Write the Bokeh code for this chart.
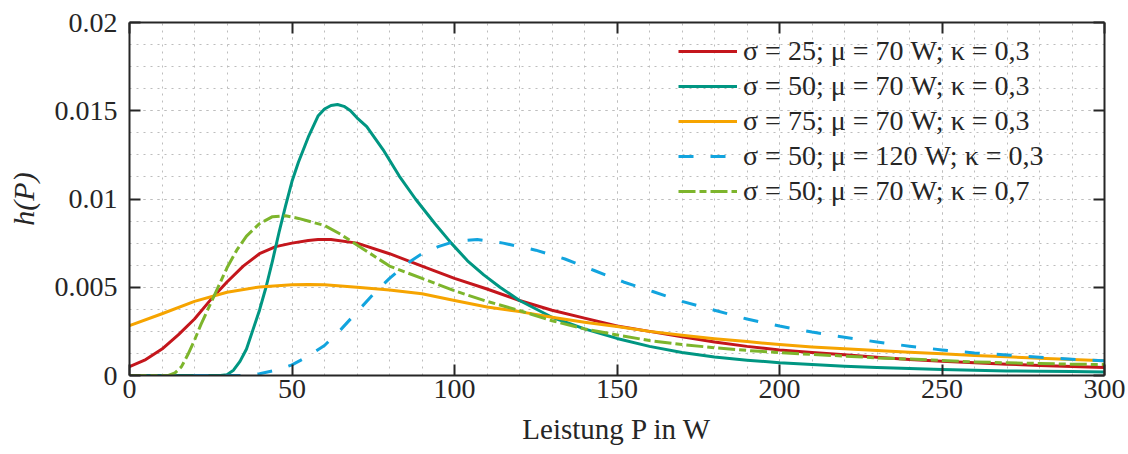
from bokeh.plotting import figure
from bokeh.models import (Range1d, FixedTicker, LinearAxis, CustomJSTickFormatter,
                          Legend, LegendItem)
from bokeh.embed import file_html
from bokeh.resources import INLINE

# ---------------- data ----------------
P_red = [0, 5, 10, 15, 20, 25, 30, 35, 40, 45, 50, 55, 58, 62, 70, 80, 90, 100, 110, 120,
         130, 140, 150, 160, 170, 180, 190, 200, 210, 220, 230, 240, 250, 260, 270, 280, 290, 300]
h_red = [0.0005, 0.0009, 0.0015, 0.0023, 0.0032, 0.0043, 0.0053, 0.0062, 0.0069, 0.0073,
         0.0075, 0.00765, 0.0077, 0.0077, 0.0075, 0.0069, 0.0062, 0.0055, 0.0049, 0.00425,
         0.0037, 0.00325, 0.0028, 0.0025, 0.0022, 0.0019, 0.00165, 0.00145, 0.0013, 0.00117,
         0.00104, 0.00091, 0.00081, 0.00072, 0.00064, 0.00057, 0.00051, 0.00046]

P_teal = [0, 28, 30, 32, 34, 36, 38, 40, 42, 44, 46, 48, 50, 52, 55, 58, 60, 62, 64, 66,
          68, 70, 73, 78, 83, 88, 94, 99, 104, 109, 114, 120, 130, 140, 150, 160, 170, 180,
          190, 200, 210, 220, 230, 240, 250, 260, 270, 280, 290, 300]
h_teal = [0, 0, 0.00005, 0.0003, 0.0008, 0.0015, 0.0026, 0.0037, 0.0050, 0.0065,
          0.0081, 0.0096, 0.0110, 0.0121, 0.0135, 0.0147, 0.0151, 0.0153, 0.01535, 0.01525,
          0.0150, 0.0146, 0.0141, 0.0128, 0.0113, 0.0100, 0.0086, 0.0075, 0.0065, 0.0057,
          0.0050, 0.00425, 0.0033, 0.00264, 0.0021, 0.00165, 0.0013, 0.00105,
          0.00087, 0.00072, 0.00062, 0.00053, 0.00045, 0.0004, 0.00034, 0.0003, 0.00026,
          0.00024, 0.00022, 0.0002]

P_orange = [0, 10, 20, 30, 40, 50, 55, 60, 70, 80, 90, 100, 110, 120, 130, 140, 150, 160,
            170, 180, 190, 200, 210, 220, 230, 240, 250, 260, 270, 280, 290, 300]
h_orange = [0.00283, 0.0035, 0.0042, 0.00472, 0.00502, 0.00514, 0.00516, 0.00514, 0.0050, 0.00485,
            0.00463, 0.00425, 0.00388, 0.00362, 0.0033, 0.00302, 0.00278, 0.0025, 0.00228, 0.00208,
            0.00192, 0.00175, 0.00161, 0.00151, 0.00142, 0.00132, 0.00123, 0.00114, 0.00106, 0.00098,
            0.00091, 0.00083]

P_blue = [0, 35, 40, 45, 50, 55, 60, 65, 70, 75, 80, 85, 90, 95, 100, 107, 115, 125, 134, 143,
          152, 161, 170, 180, 190, 200, 210, 220, 230, 240, 250, 260, 270, 280, 290, 300]
h_blue = [0, 0, 0.0001, 0.0003, 0.0006, 0.0011, 0.0017, 0.0026, 0.0036, 0.0046,
          0.0055, 0.0063, 0.0069, 0.0073, 0.0076, 0.0077, 0.0075, 0.0071, 0.0066, 0.00595,
          0.0053, 0.00476, 0.0042, 0.0037, 0.0032, 0.0028, 0.00246, 0.00217, 0.0019, 0.00166,
          0.00145, 0.00128, 0.00116, 0.00104, 0.00092, 0.00083]

P_lime = [0, 12, 14, 16, 18, 20, 22, 24, 26, 28, 30, 33, 36, 40, 44, 48, 52, 56, 60, 65,
          70, 75, 80, 90, 100, 110, 120, 130, 140, 150, 160, 170, 180, 190, 200, 210, 220, 230,
          240, 250, 260, 270, 280, 290, 300]
h_lime = [0, 0, 0.00015, 0.0005, 0.0012, 0.0020, 0.0029, 0.0037, 0.0045, 0.0053,
          0.0061, 0.0071, 0.0079, 0.0086, 0.0090, 0.00905, 0.0089, 0.0087, 0.0085, 0.0080,
          0.0074, 0.0068, 0.0062, 0.0055, 0.0048, 0.0042, 0.00368, 0.0031, 0.00264, 0.0023,
          0.00198, 0.00176, 0.00157, 0.00142, 0.0013, 0.00119, 0.0011, 0.001, 0.00093, 0.00085,
          0.00077, 0.00072, 0.00068, 0.00064, 0.00062]

series_labels = ["σ = 25; μ = 70 W; κ = 0,3",
                 "σ = 50; μ = 70 W; κ = 0,3",
                 "σ = 75; μ = 70 W; κ = 0,3",
                 "σ = 50; μ = 120 W; κ = 0,3",
                 "σ = 50; μ = 70 W; κ = 0,7"]

x_ticks = [0, 50, 100, 150, 200, 250, 300]
x_tick_labels = ["0", "50", "100", "150", "200", "250", "300"]
y_ticks = [0, 0.005, 0.01, 0.015, 0.02]
y_tick_labels = ["0", "0.005", "0.01", "0.015", "0.02"]

x_label = "Leistung P in W"
y_label = "h(P)"

# ---------------- styling ----------------
FONT = "Liberation Serif"
FS = "28px"
TXT = "#262626"
GRID = "#bdbdbd"

p = figure(width=1128, height=454, output_backend="svg", toolbar_location=None,
           x_range=Range1d(0, 300), y_range=Range1d(0, 0.02),
           min_border_left=129, min_border_right=24, min_border_top=22, min_border_bottom=79)
p.outline_line_color = None
p.background_fill_color = "white"
p.border_fill_color = "white"

x_minor = [10 * i for i in range(31)]
y_minor = [0.00125 * i for i in range(17)]

def fmt(tvals, tlabels):
    return CustomJSTickFormatter(args=dict(tv=tvals, tl=tlabels), code="""
        for (let i = 0; i < tv.length; i++) {
            if (Math.abs(tv[i] - tick) < 1e-9) { return tl[i]; }
        }
        return '';
    """)

def style_axis(ax):
    ax.axis_line_color = TXT
    ax.axis_line_width = 2
    ax.major_tick_line_color = TXT
    ax.major_tick_line_width = 2
    ax.major_tick_in = 11
    ax.major_tick_out = 0
    ax.minor_tick_in = 0
    ax.minor_tick_out = 0
    ax.major_label_text_font = FONT
    ax.major_label_text_font_size = FS
    ax.major_label_text_color = TXT
    ax.axis_label_text_font = FONT
    ax.axis_label_text_color = TXT

xa = p.xaxis[0]
xa.ticker = FixedTicker(ticks=x_ticks, minor_ticks=x_minor)
xa.formatter = fmt(x_ticks, x_tick_labels)
style_axis(xa)
xa.major_label_standoff = 4
xa.axis_label = x_label
xa.axis_label_text_font_size = "29px"
xa.axis_label_standoff = 12
xa.axis_label_text_font_style = "normal"

ya = p.yaxis[0]
ya.ticker = FixedTicker(ticks=y_ticks, minor_ticks=y_minor)
ya.formatter = fmt(y_ticks, y_tick_labels)
style_axis(ya)
ya.major_label_standoff = 12
ya.axis_label = y_label
ya.axis_label_text_font_size = "30px"
ya.axis_label_standoff = 12
ya.axis_label_text_font_style = "italic"

empty = CustomJSTickFormatter(code="return '';")
top = LinearAxis(ticker=FixedTicker(ticks=x_ticks), formatter=empty)
style_axis(top)
top.major_label_text_font_size = "1px"
top.major_label_standoff = 0
p.add_layout(top, "above")

right = LinearAxis(ticker=FixedTicker(ticks=y_ticks), formatter=empty)
style_axis(right)
right.major_label_text_font_size = "1px"
right.major_label_standoff = 0
p.add_layout(right, "right")

for g in (p.xgrid[0], p.ygrid[0]):
    g.grid_line_color = GRID
    g.grid_line_dash = "2 5"
    g.grid_line_width = 1
    g.minor_grid_line_color = GRID
    g.minor_grid_line_dash = "2 5"
    g.minor_grid_line_width = 1

colors = ["#C4161C", "#009682", "#F6A400", "#12A4DE", "#7DB52C"]
dashes = ["solid", "solid", "solid", "15 17", "17 4 7 4"]
xs = [P_red, P_teal, P_orange, P_blue, P_lime]
ys = [h_red, h_teal, h_orange, h_blue, h_lime]

renderers = []
for x, y, c, d in zip(xs, ys, colors, dashes):
    r = p.line(x, y, line_color=c, line_width=3, line_dash=d, line_join="round")
    renderers.append(r)

legend = Legend(items=[LegendItem(label=lab, renderers=[r]) for lab, r in zip(series_labels, renderers)],
                location=(549, 168), padding=0, margin=0,
                background_fill_alpha=0, border_line_alpha=0,
                label_text_font=FONT, label_text_font_size=FS, label_text_color=TXT,
                glyph_width=59, glyph_height=30, label_standoff=6,
                label_height=32, spacing=3)
p.add_layout(legend)

open("out.html", "w").write(file_html(p, INLINE))
